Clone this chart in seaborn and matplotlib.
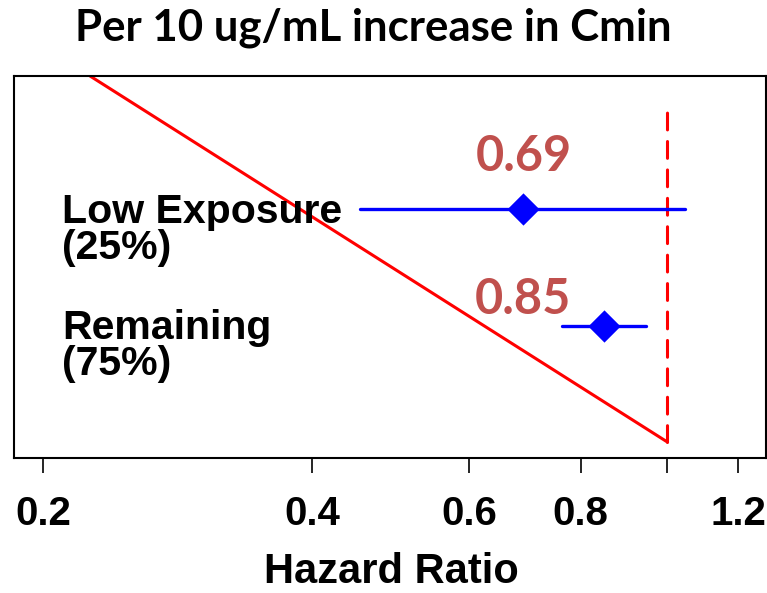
import numpy as np
import pandas as pd
import matplotlib
matplotlib.use("Agg")
import matplotlib.pyplot as plt
import seaborn as sns

# Hazard ratios per 10 ug/mL increase in Cmin, by exposure group
groups = ["Low Exposure", "Remaining"]
group_shares = ["(25%)", "(75%)"]
hr = [0.69, 0.85]
ci_low = [0.453, 0.762]
ci_high = [1.047, 0.947]
hr_labels = ["0.69", "0.85"]

tick_values = [0.2, 0.4, 0.6, 0.8, 1.0, 1.2]
tick_labels = ["0.2", "0.4", "0.6", "0.8", "", "1.2"]

sns.set_theme(style="white")
plt.rcParams["font.family"] = ["Liberation Sans", "DejaVu Sans"]
plt.rcParams["text.color"] = "black"
plt.rcParams["xtick.color"] = "black"
plt.rcParams["axes.labelcolor"] = "black"

fig = plt.figure(figsize=(7.67, 5.93), dpi=100)
ax = fig.add_axes([0.0183, 0.2277, 0.9804, 0.6441])

rows = [0.652, 0.346]
df = pd.DataFrame({"group": groups, "hr": hr, "lo": ci_low, "hi": ci_high, "row": rows})

ax.set_xscale("log")
ax.set_xlim(0.1856, 1.290)
ax.set_ylim(0, 1)

# descending reference line and null-effect line
sns.lineplot(x=[0.2258, 1.0], y=[1.0, 0.042], ax=ax, color="#ff0000", lw=2.2)
ax.plot([1.0, 1.0], [0.042, 0.929], color="#ff0000", lw=2.2,
        linestyle=(0, (5.5, 3.8)), dash_capstyle="round")

# confidence intervals and point estimates
for _, r in df.iterrows():
    ax.plot([r["lo"], r["hi"]], [r["row"], r["row"]], color="#0000ff", lw=2.4,
            solid_capstyle="round")
sns.scatterplot(data=df, x="hr", y="row", ax=ax, marker="D", s=270,
                color="#0000ff", edgecolor="#0000ff", linewidth=0, zorder=5)

# value labels
label_y = [0.788, 0.414]
for lab, ly in zip(hr_labels, label_y):
    ax.text(0.69, ly, lab, ha="center", va="center", color="#c0504d",
            fontsize=35, fontweight="bold", family=["Lato", "DejaVu Sans"])

# group labels
name_y = [(458 - 223) / 382, (458 - 339) / 382]
share_y = [(458 - 259) / 382, (458 - 375) / 382]
for g, s, ny, sy in zip(groups, group_shares, name_y, share_y):
    ax.text(0.0638, ny, g, transform=ax.transAxes, ha="left", va="baseline",
            fontsize=29.5, fontweight="bold", color="black")
    ax.text(0.0638, sy, s, transform=ax.transAxes, ha="left", va="baseline",
            fontsize=29.5, fontweight="bold", color="black")

ax.set_xticks(tick_values)
ax.set_xticklabels(tick_labels)
ax.xaxis.set_minor_locator(matplotlib.ticker.NullLocator())
ax.set_yticks([])
ax.set_ylabel("")
ax.tick_params(axis="x", direction="out", length=11, width=1.2, pad=16,
               labelsize=29, bottom=True, color="black", labelcolor="black")
for lab in ax.get_xticklabels():
    lab.set_fontweight("bold")
for sp in ax.spines.values():
    sp.set_visible(True)
    sp.set_color("black")
    sp.set_linewidth(1.5)

ax.set_xlabel("")
fig.text(391 / 767, 1 - 583 / 593, "Hazard Ratio", ha="center", va="baseline",
         fontsize=30, fontweight="bold", color="black")
fig.text(373 / 767, 1 - 40 / 593, "Per 10 ug/mL increase in Cmin", ha="center",
         va="baseline", fontsize=31.5, fontweight="bold", color="black",
         family=["Lato", "DejaVu Sans"])

fig.savefig("out.png", dpi=100)
